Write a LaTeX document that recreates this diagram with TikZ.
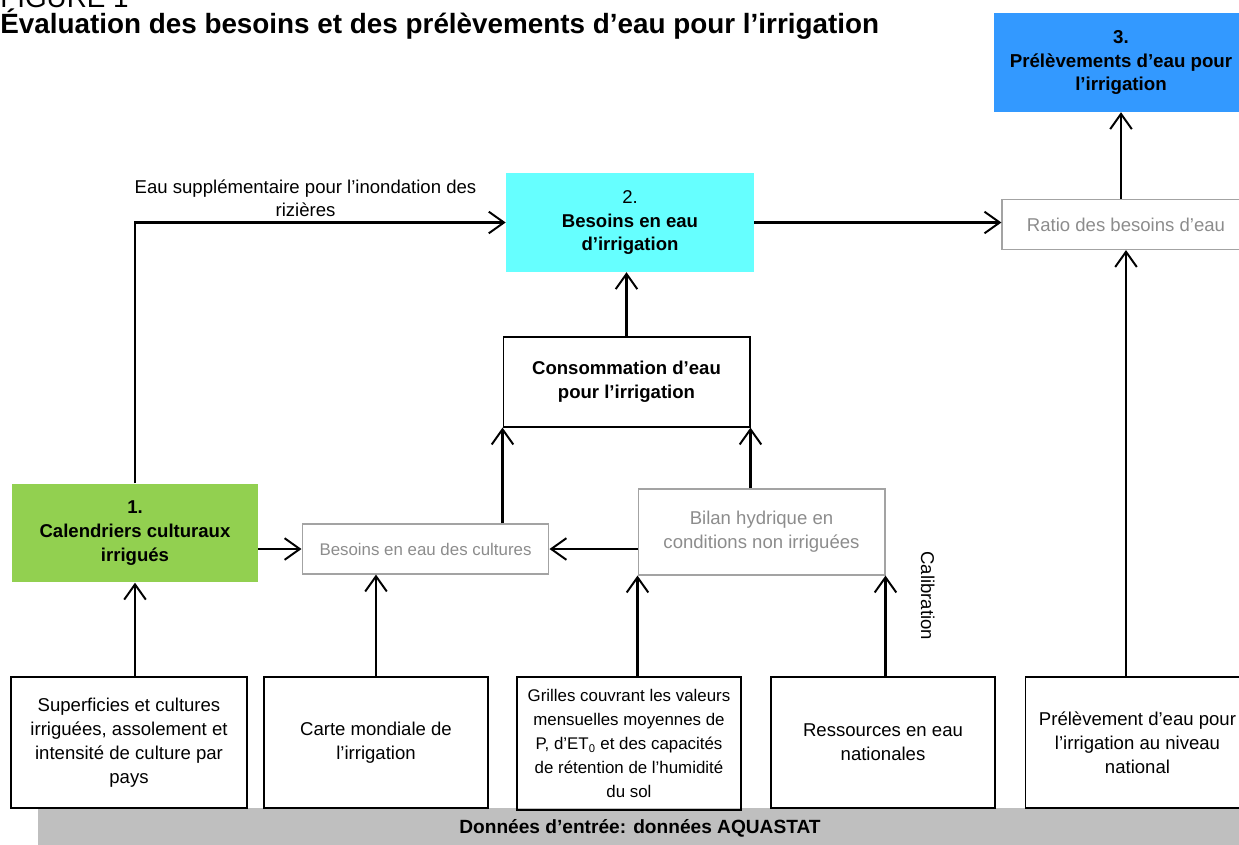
\documentclass[tikz,border=0pt]{standalone}
\usepackage{fontspec}
\setmainfont{Liberation Sans}
\usetikzlibrary{arrows.meta}

\definecolor{stepgreen}{HTML}{92D050}
\definecolor{stepcyan}{HTML}{66FFFF}
\definecolor{stepblue}{HTML}{3399FF}
\definecolor{softgray}{HTML}{8C8C8C}
\definecolor{bargray}{HTML}{BFBFBF}

\begin{document}
\begin{tikzpicture}[
  x=0.025cm, y=-0.025cm,
  font=\fontsize{13.2}{17}\selectfont,
  stepbox/.style={minimum width=6.15cm, minimum height=2.47cm,
                  align=center, inner sep=2pt,
                  font=\fontsize{13.2}{17}\selectfont\bfseries},
  grey/.style={draw=softgray!80, line width=0.8pt, text=softgray,
               minimum width=6.2cm, align=center, inner sep=2pt},
  input/.style={draw, line width=0.8pt, minimum width=5.6cm,
                minimum height=3.275cm, align=center, inner sep=2pt},
  arr/.style={line width=1.6pt, -{Straight Barb[length=3.8mm, width=5.4mm, line width=1.4pt]}},
]
\useasboundingbox (0,0) rectangle (1239,844);

% ── Title ─────────────────────────────────────────────────────────────────────
\node[anchor=base west, inner sep=0pt, font=\fontsize{19.8}{22}\selectfont]
  (fig) at (0,7) {FIGURE 1};
\node[anchor=base west, inner sep=0pt, font=\fontsize{19.8}{22}\selectfont\bfseries]
  (title) at (0,33) {Évaluation des besoins et des prélèvements d’eau pour l’irrigation};

% ── Main steps ────────────────────────────────────────────────────────────────
\node[stepbox, fill=stepgreen] (cal) at (135,533)
  {1.\\Calendriers culturaux\\irrigués};
\node[stepbox, fill=stepcyan, minimum width=6.2cm] (besirr) at (630,222.5)
  {\mdseries 2.\\Besoins en eau\\d’irrigation};
\node[stepbox, fill=stepblue, minimum width=6.35cm, font=\fontsize{13.3}{16.4}\selectfont\bfseries]
  (prel) at (1121,62.5) {3.\\Prélèvements d’eau pour\\l’irrigation};

% ── Intermediate boxes ────────────────────────────────────────────────────────
\node[grey, minimum height=1.25cm] (ratio) at (1126,224.5) {Ratio des besoins d’eau};
\node[draw, line width=0.8pt, minimum width=6.17cm, minimum height=2.25cm,
      align=center, font=\fontsize{13.2}{17}\selectfont\bfseries]
  (conso) at (626.5,382) {Consommation d’eau\\pour l’irrigation};
\node[grey, minimum width=6.17cm, minimum height=1.25cm,
      font=\fontsize{12}{17}\selectfont] (cult) at (425.5,549)
  {Besoins en eau des cultures};
\node[grey, minimum width=6.17cm, minimum height=2.15cm] (bilan) at (761.5,532)
  {Bilan hydrique en\\conditions non irriguées};

% ── Input data ────────────────────────────────────────────────────────────────
\fill[bargray] (38,808) rectangle (1250,850);
\node[font=\fontsize{13.6}{15}\selectfont\bfseries] (aqua) at (640,828)
  {Données d’entrée: données AQUASTAT};

\node[input, minimum width=5.9cm] (supf) at (129,742.5)
  {Superficies et cultures\\irriguées, assolement et\\intensité de culture par\\pays};
\node[input] (carte) at (376,742.5) {Carte mondiale de\\l’irrigation};
\node[input, minimum height=3.325cm, font=\fontsize{12}{17}\selectfont] (grilles) at (629,743.5)
  {Grilles couvrant les valeurs\\mensuelles moyennes de\\P, d’ET\textsubscript{0} et des capacités\\de rétention de l’humidité\\du sol};
\node[input] (ress) at (883,742.5) {Ressources en eau\\nationales};
\node[input] (natl) at (1137.5,742.5) {Prélèvement d’eau pour\\l’irrigation au niveau\\national};

% ── Connectors ────────────────────────────────────────────────────────────────
\draw[arr] (cal.north) |- node[pos=0.73, above, align=center, inner sep=3pt]
  {Eau supplémentaire pour l’inondation des\\rizières} (besirr.west);
\draw[arr] (besirr.east) -- (besirr.east -| ratio.west);
\draw[arr] (ratio.north -| prel.south) -- (prel.south);
\draw[arr] (conso.north) -- (conso.north |- besirr.south);
\draw[arr] (cult.north -| conso.south west) -- (conso.south west);
\draw[arr] (bilan.north -| conso.south east) -- (conso.south east);
\draw[arr] (cal.east |- cult.west) -- (cult.west);
\draw[arr] (bilan.west |- cult.east) -- (cult.east);

\draw[arr] (supf.north -| cal.south) -- (cal.south);
\draw[arr] (carte.north) -- (carte.north |- cult.south);
\draw[arr] (grilles.north -| bilan.south west) -- (bilan.south west);
\draw[arr] (ress.north -| bilan.south east) -- (bilan.south east)
  node[pos=0.8, right=30pt, rotate=-90, anchor=center] (calib) {Calibration};
\draw[arr] (natl.north -| ratio.south) -- (ratio.south);

\end{tikzpicture}
\end{document}
